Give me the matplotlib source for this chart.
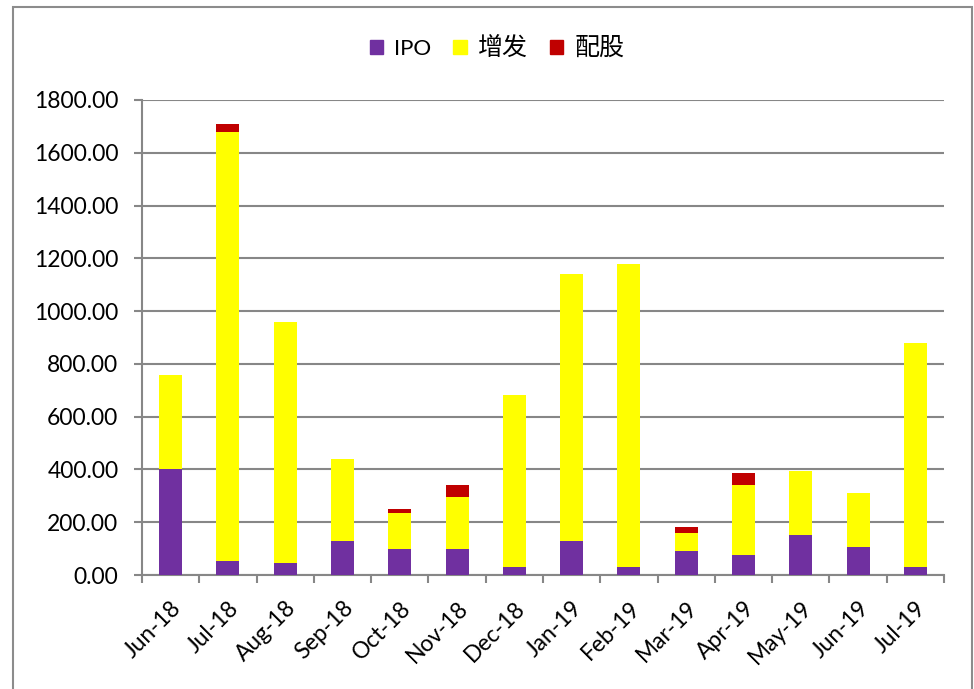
import numpy as np
import matplotlib
matplotlib.use("Agg")
import matplotlib.pyplot as plt
from matplotlib.patches import Rectangle, Patch

plt.rcParams['font.family'] = ['Lato', 'Noto Sans CJK SC', 'DejaVu Sans']

months = ["Jun-18", "Jul-18", "Aug-18", "Sep-18", "Oct-18", "Nov-18", "Dec-18",
          "Jan-19", "Feb-19", "Mar-19", "Apr-19", "May-19", "Jun-19", "Jul-19"]
ipo = [402, 53, 46, 129, 99, 99, 30, 129, 30, 91, 76, 152, 106, 30]
zengfa = [357, 1625, 911, 311, 136, 197, 653, 1010, 1148, 68, 266, 243, 205, 851]
peigu = [0, 31, 0, 0, 16, 46, 0, 0, 0, 23, 45, 0, 0, 0]
series_names = ["IPO", "增发", "配股"]
colors = ["#7030A0", "#FFFF00", "#C00000"]
grid_col = "#878787"

W, H = 974, 689
fig = plt.figure(figsize=(W / 100, H / 100), dpi=100)
ax = fig.add_axes([142 / W, (H - 575) / H, (944 - 142) / W, (575 - 100) / H])

x = np.arange(len(months))
bw = 0.4
ipo = np.array(ipo, float)
zengfa = np.array(zengfa, float)
peigu = np.array(peigu, float)
ax.bar(x, ipo, bw, color=colors[0], zorder=3)
ax.bar(x, zengfa, bw, bottom=ipo, color=colors[1], zorder=3)
ax.bar(x, peigu, bw, bottom=ipo + zengfa, color=colors[2], zorder=3)

ax.set_xlim(-0.5, len(months) - 0.5)
ax.set_ylim(0, 1800)
ax.set_yticks(np.arange(0, 1801, 200))
ax.set_yticklabels(["%.2f" % v for v in np.arange(0, 1801, 200)], fontsize=16.5)
ax.yaxis.grid(True, color=grid_col, linewidth=1.5, zorder=0)
ax.set_axisbelow(True)

ax.set_xticks(x)
ax.set_xticklabels(months, rotation=45, ha="right", rotation_mode="anchor", fontsize=16.5)
ax.tick_params(axis="x", which="major", length=0, pad=16)
ax.set_xticks(np.arange(-0.5, len(months), 1), minor=True)
ax.tick_params(axis="x", which="minor", length=6, width=1.5, color=grid_col)
ax.tick_params(axis="y", length=6, width=1.5, color=grid_col, pad=11)

for s in ["top", "right"]:
    ax.spines[s].set_visible(False)
for s in ["left", "bottom"]:
    ax.spines[s].set_color(grid_col)
    ax.spines[s].set_linewidth(1.5)

handles = [Patch(color=c) for c in colors]
leg = fig.legend(handles, series_names, loc="center", bbox_to_anchor=(497 / W, 1 - 47 / H),
                 ncol=3, frameon=False, fontsize=16, handlelength=0.6, handleheight=0.6,
                 handletextpad=0.5, columnspacing=1.0)
for t in leg.get_texts()[1:]:
    t.set_fontsize(18)

# chart area border
fig.patches.append(Rectangle((13 / W, -0.01), (972 - 13) / W, 1 - 7 / H + 0.01,
                             transform=fig.transFigure, fill=False,
                             edgecolor="#8c8c8c", linewidth=1.5))

fig.savefig("out.png", dpi=100)
